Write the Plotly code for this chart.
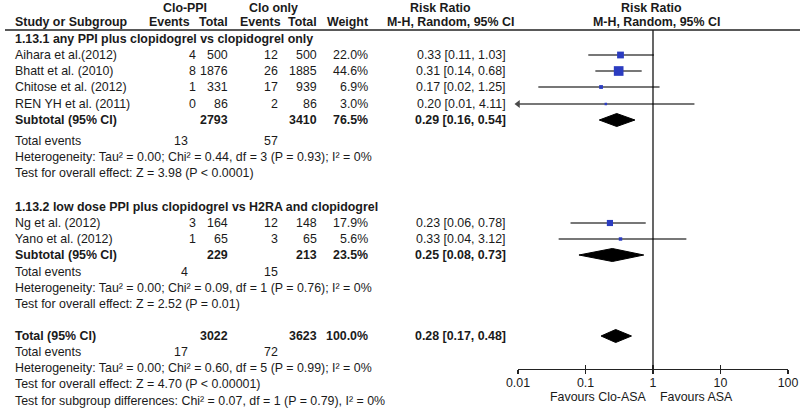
import math
import plotly.graph_objects as go

# ---------------- data ----------------
group_titles = ["1.13.1 any PPI plus clopidogrel vs clopidogrel only",
                "1.13.2 low dose PPI plus clopidogrel vs H2RA and clopidogrel"]

studies_g1 = ["Aihara et al.(2012)", "Bhatt et al. (2010)", "Chitose et al. (2012)", "REN YH et al. (2011)"]
ev_ppi_g1 = [4, 8, 1, 0]
tot_ppi_g1 = [500, 1876, 331, 86]
ev_clo_g1 = [12, 26, 17, 2]
tot_clo_g1 = [500, 1885, 939, 86]
weight_g1 = [22.0, 44.6, 6.9, 3.0]
rr_g1 = [0.33, 0.31, 0.17, 0.20]
lo_g1 = [0.11, 0.14, 0.02, 0.01]
hi_g1 = [1.03, 0.68, 1.25, 4.11]

studies_g2 = ["Ng et al. (2012)", "Yano et al. (2012)"]
ev_ppi_g2 = [3, 1]
tot_ppi_g2 = [164, 65]
ev_clo_g2 = [12, 3]
tot_clo_g2 = [148, 65]
weight_g2 = [17.9, 5.6]
rr_g2 = [0.23, 0.33]
lo_g2 = [0.06, 0.04]
hi_g2 = [0.78, 3.12]

sub_tot_ppi = [2793, 229]
sub_tot_clo = [3410, 213]
sub_weight = [76.5, 23.5]
sub_rr = [0.29, 0.25]
sub_lo = [0.16, 0.08]
sub_hi = [0.54, 0.73]
sub_ev_ppi = [13, 4]
sub_ev_clo = [57, 15]
sub_het = ["Heterogeneity: Tau² = 0.00; Chi² = 0.44, df = 3 (P = 0.93); I² = 0%",
           "Heterogeneity: Tau² = 0.00; Chi² = 0.09, df = 1 (P = 0.76); I² = 0%"]
sub_test = ["Test for overall effect: Z = 3.98 (P < 0.0001)",
            "Test for overall effect: Z = 2.52 (P = 0.01)"]

total_tot_ppi = 3022
total_tot_clo = 3623
total_weight = 100.0
total_rr = 0.28
total_lo = 0.17
total_hi = 0.48
total_ev_ppi = 17
total_ev_clo = 72
total_het = "Heterogeneity: Tau² = 0.00; Chi² = 0.60, df = 5 (P = 0.99); I² = 0%"
total_test = "Test for overall effect: Z = 4.70 (P < 0.00001)"
subgroup_test = "Test for subgroup differences: Chi² = 0.07, df = 1 (P = 0.79), I² = 0%"

tick_vals = [0.01, 0.1, 1, 10, 100]
tick_text = ["0.01", "0.1", "1", "10", "100"]
favours_left = "Favours Clo-ASA"
favours_right = "Favours ASA"

# ---------------- layout constants (pixels) ----------------
W, H = 800, 412
FONT = "Liberation Sans, Arial, sans-serif"
FS = 12.4
TXT = "#1a1a1a"
BLUE = "#2b3cc0"
CI_COL = "#4a4a4a"

# row y-positions (pixels from top)
y_head1, y_head2 = 8, 22
y_line = 30
g1_rows = dict(title=39, studies=[55, 71, 87, 104], sub=120, ev=141, het=157, test=173)
g2_rows = dict(title=207, studies=[223, 239], sub=255, ev=272, het=288, test=304)
y_total, y_tev, y_thet, y_ttest, y_sgtest = 336, 352, 368, 384, 401
y_axis = 369
y_fav = 397

# column x positions
x_name = 13
x_ev_ppi, x_tot_ppi, x_ev_clo, x_tot_clo, x_w, x_rr = 198, 230, 280, 319, 370, 508
x_tev_ppi, x_tev_clo = 190, 280
x_plot0, x_plot1 = 518, 788

fig = go.Figure()
ann = []


def txt(x, y, s, anchor="left", bold=False, size=FS):
    ann.append(dict(x=x / W, y=y, xref="paper", yref="y", text=(f"<b>{s}</b>" if bold else s),
                    showarrow=False, xanchor=anchor, yanchor="middle",
                    font=dict(family=FONT, size=size, color=TXT)))


# headers
txt(185, y_head1, "Clo-PPI", "center", True)
txt(273, y_head1, "Clo only", "center", True)
txt(440, y_head1, "Risk Ratio", "center", True)
txt(651, y_head1, "Risk Ratio", "center", True)
txt(x_name, y_head2, "Study or Subgroup", "left", True)
txt(192, y_head2, "Events", "right", True)
txt(x_tot_ppi, y_head2, "Total", "right", True)
txt(283, y_head2, "Events", "right", True)
txt(x_tot_clo, y_head2, "Total", "right", True)
txt(x_w, y_head2, "Weight", "right", True)
txt(450, y_head2, "M-H, Random, 95% CI", "center", True)
txt(656, y_head2, "M-H, Random, 95% CI", "center", True)


def rrs(r, l, h):
    return f"{r:.2f} [{l:.2f}, {h:.2f}]"


def diamond(rr, lo, hi, y, half=6.5):
    fig.add_trace(go.Scatter(x=[lo, rr, hi, rr, lo], y=[y, y - half, y, y + half, y],
                             fill="toself", fillcolor="black", mode="lines",
                             line=dict(color="black", width=1), xaxis="x", yaxis="y",
                             hoverinfo="skip", showlegend=False, cliponaxis=False))


groups = [
    (studies_g1, ev_ppi_g1, tot_ppi_g1, ev_clo_g1, tot_clo_g1, weight_g1, rr_g1, lo_g1, hi_g1, g1_rows),
    (studies_g2, ev_ppi_g2, tot_ppi_g2, ev_clo_g2, tot_clo_g2, weight_g2, rr_g2, lo_g2, hi_g2, g2_rows),
]

for gi, (names, evp, totp, evc, totc, wts, rrv, lov, hiv, rows) in enumerate(groups):
    txt(x_name, rows["title"], group_titles[gi], "left", True)
    for i, nm in enumerate(names):
        y = rows["studies"][i]
        txt(x_name, y, nm)
        txt(x_ev_ppi, y, str(evp[i]), "right")
        txt(x_tot_ppi, y, str(totp[i]), "right")
        txt(x_ev_clo, y, str(evc[i]), "right")
        txt(x_tot_clo, y, str(totc[i]), "right")
        txt(x_w, y, f"{wts[i]:.1f}%", "right")
        txt(x_rr, y, rrs(rrv[i], lov[i], hiv[i]), "right")
        fig.add_trace(go.Scatter(x=[lov[i], hiv[i]], y=[y, y], mode="lines",
                                 line=dict(color=CI_COL, width=1.5), xaxis="x", yaxis="y",
                                 hoverinfo="skip", showlegend=False, cliponaxis=False))
        if lov[i] <= tick_vals[0]:
            fig.add_trace(go.Scatter(x=[lov[i]], y=[y], mode="markers",
                                     marker=dict(symbol="triangle-left", size=7, color=CI_COL),
                                     xaxis="x", yaxis="y", hoverinfo="skip",
                                     showlegend=False, cliponaxis=False))
        fig.add_trace(go.Scatter(x=[rrv[i]], y=[y], mode="markers",
                                 marker=dict(symbol="square", size=1.45 * math.sqrt(wts[i]),
                                             color=BLUE, line=dict(width=0)),
                                 xaxis="x", yaxis="y", hoverinfo="skip",
                                 showlegend=False, cliponaxis=False))
    ys = rows["sub"]
    txt(x_name, ys, "Subtotal (95% CI)", "left", True)
    txt(x_tot_ppi, ys, str(sub_tot_ppi[gi]), "right", True)
    txt(x_tot_clo, ys, str(sub_tot_clo[gi]), "right", True)
    txt(x_w, ys, f"{sub_weight[gi]:.1f}%", "right", True)
    txt(x_rr, ys, rrs(sub_rr[gi], sub_lo[gi], sub_hi[gi]), "right", True)
    diamond(sub_rr[gi], sub_lo[gi], sub_hi[gi], ys)
    txt(x_name, rows["ev"], "Total events")
    txt(x_tev_ppi, rows["ev"], str(sub_ev_ppi[gi]), "right")
    txt(x_tev_clo, rows["ev"], str(sub_ev_clo[gi]), "right")
    txt(x_name, rows["het"], sub_het[gi])
    txt(x_name, rows["test"], sub_test[gi])

# overall
txt(x_name, y_total, "Total (95% CI)", "left", True)
txt(x_tot_ppi, y_total, str(total_tot_ppi), "right", True)
txt(x_tot_clo, y_total, str(total_tot_clo), "right", True)
txt(x_w, y_total, f"{total_weight:.1f}%", "right", True)
txt(x_rr, y_total, rrs(total_rr, total_lo, total_hi), "right", True)
diamond(total_rr, total_lo, total_hi, y_total)
txt(x_name, y_tev, "Total events")
txt(x_tev_ppi, y_tev, str(total_ev_ppi), "right")
txt(x_tev_clo, y_tev, str(total_ev_clo), "right")
txt(x_name, y_thet, total_het)
txt(x_name, y_ttest, total_test)
txt(x_name, y_sgtest, subgroup_test)

# line of no effect
fig.add_trace(go.Scatter(x=[1, 1], y=[y_line, y_axis], mode="lines",
                         line=dict(color="black", width=1.2), xaxis="x", yaxis="y",
                         hoverinfo="skip", showlegend=False, cliponaxis=False))

# favours labels
ann.append(dict(x=0, y=y_fav, xref="x", yref="y", text=favours_left, showarrow=False,
                xanchor="right", yanchor="middle", xshift=-5,
                font=dict(family=FONT, size=FS, color=TXT)))
ann.append(dict(x=0, y=y_fav, xref="x", yref="y", text=favours_right, showarrow=False,
                xanchor="left", yanchor="middle", xshift=5,
                font=dict(family=FONT, size=FS, color=TXT)))

# invisible trace on overlay axis so that its ticks render
fig.add_trace(go.Scatter(x=[1], y=[y_axis], mode="markers", marker=dict(size=0, opacity=0),
                         xaxis="x3", yaxis="y", hoverinfo="skip", showlegend=False))

axis_pos = 1 - y_axis / H
dom = [x_plot0 / W, x_plot1 / W]

fig.update_layout(
    width=W, height=H,
    margin=dict(l=0, r=0, t=0, b=0, pad=0, autoexpand=False),
    paper_bgcolor="white", plot_bgcolor="rgba(0,0,0,0)",
    showlegend=False,
    annotations=ann,
    shapes=[dict(type="line", xref="paper", yref="y", x0=5 / W, x1=1, y0=y_line, y1=y_line,
                 line=dict(color="#222", width=1.5))],
    xaxis=dict(type="log", range=[-2, 2], domain=dom, anchor="free", position=axis_pos,
               showgrid=False, zeroline=False, showline=True, linecolor="#222", linewidth=1.2,
               ticks="outside", ticklen=4, tickwidth=1.2, tickcolor="#222",
               tickvals=tick_vals, ticktext=tick_text, automargin=False,
               ticklabelstandoff=-2,
               tickfont=dict(family=FONT, size=FS, color=TXT)),
    xaxis3=dict(type="log", range=[-2, 2], domain=dom, anchor="free", position=axis_pos,
                overlaying="x", showgrid=False, zeroline=False, showline=False,
                ticks="inside", ticklen=4, tickwidth=1.2, tickcolor="#222",
                tickvals=tick_vals, showticklabels=False, automargin=False),
    yaxis=dict(range=[H, 0], domain=[0, 1], visible=False, automargin=False),
)

fig.write_html("out.html", config={"displayModeBar": False, "staticPlot": True},
               post_script="document.body.style.margin='0';document.body.style.overflow='hidden';")
